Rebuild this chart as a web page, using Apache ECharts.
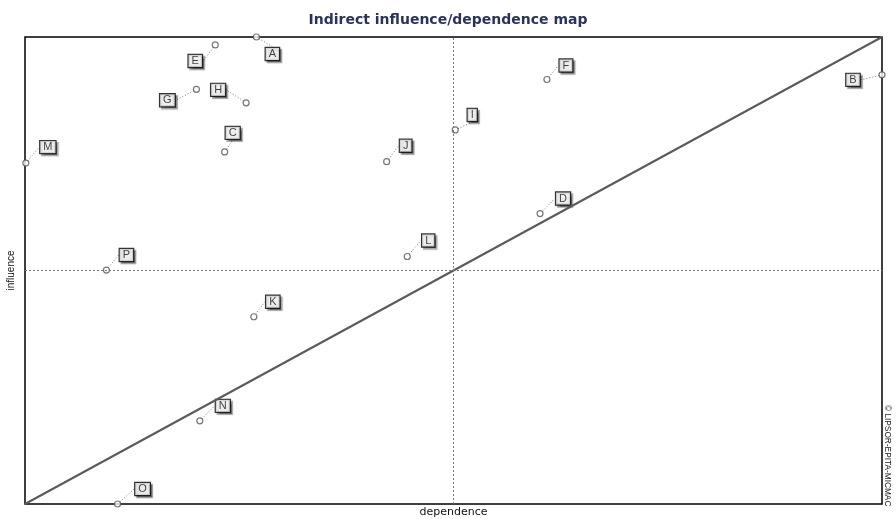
<!DOCTYPE html>
<html><head><meta charset="utf-8">
<script src="https://cdn.jsdelivr.net/npm/echarts@6/dist/echarts.min.js"></script>
<style>html,body{margin:0;padding:0;background:#fff}#c{width:896px;height:519px}</style>
</head><body><div id="c"></div>
<script>
// Variables (letters)
const names = ['A','E','G','H','C','M','J','F','I','B','D','L','P','K','N','O'];
// Indirect dependence (x) on a 0-100 scale
const dependence = [27.0, 22.2, 20.0, 25.8, 23.3, 0.1, 42.2, 60.9, 50.2, 100, 60.1, 44.6, 9.5, 26.7, 20.4, 10.8];
// Indirect influence (y) on a 0-100 scale
const influence = [100, 98.3, 88.8, 85.9, 75.4, 73.0, 73.3, 90.9, 80.1, 91.9, 62.2, 53.0, 50.1, 40.1, 17.8, 0];
const meanDep = 50, meanInf = 50;
const diagonal = [[0,0],[100,100]];

// label placement (layout only, pixels from marker)
const labelOffsets = {A:[16,17],E:[-20,16],G:[-29,11],H:[-28,-13],C:[8,-19],M:[22,-16],J:[19,-16],
  F:[19,-14],I:[17,-15],B:[-29,5],D:[23,-15],L:[21,-16],P:[20,-15],K:[19,-15],N:[23,-15],O:[25,-15]};

const pts = names.map((n,i)=>({name:n, value:[dependence[i], influence[i]]}));

const chart = echarts.init(document.getElementById('c'), null, {renderer:'canvas'});
chart.setOption({
  animation:false,
  backgroundColor:'#fff',
  title:{text:'Indirect influence/dependence map', left:'center', top:8,
    textStyle:{fontFamily:'DejaVu Sans', fontSize:14, fontWeight:'bold', color:'#2b3358'}},
  grid:{left:25, right:14, top:37, bottom:15, outerBoundsMode:'none', containLabel:false,
    show:true, borderColor:'#000', borderWidth:1.5, backgroundColor:'#fff'},
  xAxis:{type:'value', min:0, max:100, name:'dependence', nameLocation:'middle', nameGap:3,
    nameTextStyle:{fontFamily:'DejaVu Sans', fontSize:11, color:'#111', verticalAlign:'top'},
    axisLine:{show:false}, axisTick:{show:false}, axisLabel:{show:false}, splitLine:{show:false}},
  yAxis:{type:'value', min:0, max:100, name:'influence', nameLocation:'middle', nameGap:9,
    nameTextStyle:{fontFamily:'Liberation Sans', fontSize:10, color:'#111'},
    axisLine:{show:false}, axisTick:{show:false}, axisLabel:{show:false}, splitLine:{show:false}},
  graphic:[{type:'text', x:887, y:405, rotation:-Math.PI/2,
    style:{text:'© LIPSOR-EPITA-MICMAC', fontFamily:'Liberation Sans', fontSize:8.3, fill:'#222',
      textAlign:'left', textVerticalAlign:'middle'}}],
  series:[
    {type:'line', data:diagonal, symbol:'none', silent:true,
      lineStyle:{color:'#5a5a5a', width:2},
      markLine:{silent:true, symbol:'none', label:{show:false},
        lineStyle:{color:'#777', type:[2,2], width:1},
        data:[{xAxis:meanDep},{yAxis:meanInf}]}},
    {type:'scatter', data:pts, clip:false, symbol:'circle', symbolSize:6,
      itemStyle:{color:'#fff', borderColor:'#555', borderWidth:1.2},
      label:{show:true, position:'inside', formatter:'{b}', fontFamily:'Liberation Sans', fontSize:11, color:'#111',
        backgroundColor:'#fff', borderColor:'#000', borderWidth:1.2, padding:[1,3,0,3],
        shadowColor:'rgba(0,0,0,0.45)', shadowOffsetX:2, shadowOffsetY:2, shadowBlur:1},
      labelLine:{show:true, lineStyle:{color:'#777', type:[1,2], width:1}},
      labelLayout:function(p){const o=labelOffsets[names[p.dataIndex]];return {dx:o[0], dy:o[1]};}
    }
  ]
});
</script></body></html>
